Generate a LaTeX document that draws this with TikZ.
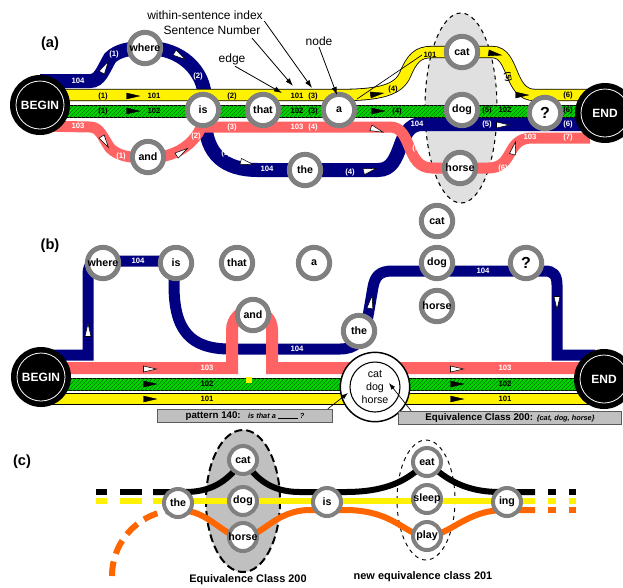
\documentclass[tikz,border=0pt]{standalone}
\usepackage{fontspec}
\setmainfont{Liberation Sans}
\usetikzlibrary{arrows.meta,patterns}

\definecolor{navyband}{RGB}{0,0,128}
\definecolor{pinkband}{RGB}{255,99,99}
\definecolor{ringgray}{RGB}{128,128,128}
\definecolor{hatchgreen}{RGB}{0,215,0}
\definecolor{hatchdark}{RGB}{0,110,0}
\definecolor{orangeband}{RGB}{255,102,0}
\definecolor{boxgray}{RGB}{192,192,192}
\definecolor{boxedge}{RGB}{90,90,90}
\definecolor{ellgray}{RGB}{224,224,224}

\tikzset{
  panel/.style={font=\fontsize{11}{13}\selectfont\bfseries, inner sep=0pt},
  word/.style={circle, draw=ringgray, fill=white, line width=3.75pt, minimum size=23.5pt, inner sep=-3pt, font=\fontsize{8}{9}\selectfont\bfseries},
  wordc/.style={word, line width=3pt, minimum size=21pt},
  qmark/.style={word, font=\fontsize{12}{13}\selectfont\bfseries},
  term/.style={circle, fill=black, minimum size=45pt, inner sep=0pt, text=white, font=\fontsize{9}{10}\selectfont\bfseries,
    path picture={\draw[white, line width=0.6pt] (path picture bounding box.center) circle[radius=18pt];}},
  bigring/.style={circle, draw=black, line width=1.1pt, fill=white, minimum size=52pt, inner sep=0pt, align=center,
    font=\fontsize{8}{9.75}\selectfont,
    path picture={\draw[black, line width=0.8pt] (path picture bounding box.center) circle[radius=18.75pt];}},
  labb/.style={font=\fontsize{5.8}{6}\selectfont\bfseries, inner sep=0pt},
  labw/.style={labb, text=white},
  note/.style={font=\fontsize{9}{10}\selectfont, inner sep=1pt},
  caption/.style={font=\fontsize{8.2}{9}\selectfont\bfseries, inner sep=0pt},
  pointer/.style={-{Latex[length=6pt, width=4pt]}, line width=0.6pt},
  graybox/.style={draw=boxedge, fill=boxgray, line width=0.8pt, inner sep=1pt, minimum height=10pt},
  b104a/.style={draw=navyband, line width=10.5pt},
  b104b/.style={draw=navyband, line width=8.25pt},
  b103a/.style={draw=pinkband, line width=8.25pt},
  b103b/.style={draw=pinkband, line width=9pt},
  b101/.style={draw=black, line width=0.6pt, double=yellow, double distance=8pt},
  b102/.style={draw=black, line width=0.6pt, fill=hatchgreen, postaction={pattern=north east lines, pattern color=hatchdark}},
  tipb/.style={fill=black, draw=black, line width=0.3pt},
  tipw/.style={fill=white, draw=black, line width=0.4pt},
  cline/.style={draw=black, line width=4.5pt},
  cyel/.style={draw=black, line width=0.5pt, double=yellow, double distance=4pt},
  corange/.style={draw=orangeband, line width=4.5pt},
}

\newcommand{\bandtip}[3]{\draw[#1, shift={#2}, rotate=#3] (-6.5,-3) -- (6.5,0) -- (-6.5,3) -- cycle;}

\begin{document}
\begin{tikzpicture}[x=0.75pt,y=0.75pt,yscale=-1,xscale=1]
    \useasboundingbox (0,0) rectangle (623,587);

    %%%%%%%%%%%%%%%%%%%% (a)
    \node[panel] (pa) at (50,44) {(a)};

    %Shape: Ellipse (equivalence region)
    \draw[dashed, fill=ellgray, line width=0.8pt] (461,108) ellipse [x radius=36, y radius=95];

    %Bands: 104, 103, 102, 101
    \draw[b104a] (40,81) -- (90,81) .. controls (100,81) and (103,70) .. (110,58) .. controls (118,50) and (130,48) .. (148,48) .. controls (180,48) and (205,70) .. (205,100) -- (205,118) .. controls (205,155) and (225,170) .. (258,170) -- (378,170) .. controls (405,170) and (395,124) .. (422,124) -- (590,124);
    \draw[b103a] (40,126) -- (90,127) .. controls (100,127) and (103,138) .. (110,148) .. controls (118,156) and (130,158) .. (148,158) .. controls (180,158) and (205,138) .. (205,108);
    \draw[b103a] (205,127) -- (390,127) .. controls (413,127) and (405,168) .. (432,168) -- (488,168) .. controls (515,168) and (505,138) .. (532,138) -- (590,138);
    \draw[b102] (40,105) rectangle (590,117);
    \draw[b101] (40,95) -- (340,95) .. controls (380,95) and (398,90) .. (405,75) .. controls (412,58) and (418,52) .. (432,52) -- (492,52) .. controls (515,52) and (508,95) .. (535,95) -- (590,95);

    %Direction marks
    \bandtip{tipb}{(133,96)}{0}
    \bandtip{tipb}{(133,111)}{0}
    \bandtip{tipb}{(377,94)}{-8}
    \bandtip{tipb}{(378,111)}{0}
    \bandtip{tipb}{(495,54)}{10}
    \bandtip{tipb}{(522,95)}{0}
    \bandtip{tipw}{(105,67)}{-60}
    \bandtip{tipw}{(180,56)}{32}
    \bandtip{tipw}{(247,163)}{15}
    \bandtip{tipw}{(370,170)}{-15}
    \bandtip{tipw}{(503,125)}{0}
    \bandtip{tipw}{(105,142)}{58}
    \bandtip{tipw}{(182,152)}{-33}
    \bandtip{tipw}{(377,130)}{20}
    \bandtip{tipw}{(514,148)}{-75}

    %Nodes
    \node[term] (begina) at (40,105) {BEGIN};
    \node[term] (enda) at (605,113) {END};
    \node[word] (wherea) at (145,48) {where};
    \node[word] (anda) at (148,157) {and};
    \node[word] (isa) at (203,110) {is};
    \node[word] (thata) at (263,110) {that};
    \node[word] (aa) at (339,110) {a};
    \node[word] (thea) at (305,170) {the};
    \node[word] (cata) at (462,52) {cat};
    \node[word] (doga) at (462,110) {dog};
    \node[word] (horsea) at (460,168) {horse};
    \node[qmark] (qa) at (545,113) {?};

    %Band labels
    \foreach \px/\py/\txt [count=\i] in {103/96/(1), 154/96/101, 232/96/(2), 297/96/101, 313/96/(3), 393/89/(4), 430/55/101, 568/95/(6),
        103/111/(1), 154/111/102, 297/111/102, 313/111/(3), 397/111/(4), 487/110/(5), 505/110/102, 568/110/(6)}
        \node[labb] (la\i) at (\px,\py) {\txt};
    \foreach \px/\py/\txt [count=\i] in {78/81/104, 114/54/(1), 198/76/(2), 226/153/(3), 267/169/104, 350/172/(4), 417/124/104, 487/124/(5), 568/124/(6),
        78/126/103, 121/156/(1), 196/136/(2), 232/127/(3), 297/127/103, 313/127/(4), 417/148/(5), 503/168/(6), 530/137/103, 568/137/(7)}
        \node[labw] (lw\i) at (\px,\py) {\txt};
    \node[labb, rotate=-80] (la5y) at (508,77) {(5)};

    %Annotations
    \node[note] (nidx) at (205,15) {within-sentence index};
    \node[note] (nsen) at (212,30) {Sentence Number};
    \node[note] (nedge) at (232,59) {edge};
    \node[note] (nnode) at (319,41) {node};
    \coordinate (tidx) at (312,88);
    \coordinate (tsen) at (293,86);
    \coordinate (tedge) at (282,93);
    \coordinate (tnode) at (337,95);
    \coordinate (tyl) at (357,99);
    \coordinate (tyr) at (422,55);
    \draw[pointer] (nidx.south east) -- (tidx);
    \draw[pointer] ([shift={(-10,2)}]nsen.south east) -- (tsen);
    \draw[pointer] ([shift={(3,0)}]nedge.south) -- (tedge);
    \draw[pointer] (nnode.south) -- (tnode);
    \draw[line width=0.5pt] (tyl) -- (tyr);

    %%%%%%%%%%%%%%%%%%%% (b)
    \node[panel] (pb) at (50,246) {(b)};

    %Bands
    \draw[b104b] (40,355) -- (88,355) -- (88,275) .. controls (88,265) and (92,261) .. (102,261) -- (174,261) -- (174,285) .. controls (174,330) and (190,349) .. (230,349) -- (340,349) .. controls (356,349) and (364,340) .. (367,322) -- (373,287) .. controls (375,276) and (380,271) .. (392,271) -- (545,271) .. controls (553,271) and (557,275) .. (557,285) -- (557,355) -- (595,355);
    \draw[b103b] (40,368) -- (232,368) -- (232,330) arc[start angle=180, end angle=360, radius=20] -- (272,368) -- (595,368);
    \draw[b102] (40,378) rectangle (595,390);
    \draw[b101] (40,399) -- (595,399);
    \fill[yellow] (246,377) rectangle (252,383);

    %Direction marks
    \bandtip{tipw}{(150,369)}{0}
    \bandtip{tipw}{(457,369)}{0}
    \bandtip{tipb}{(150,384)}{0}
    \bandtip{tipb}{(457,384)}{0}
    \bandtip{tipb}{(150,399)}{0}
    \bandtip{tipb}{(457,399)}{0}
    \bandtip{tipw}{(88,330)}{-90}
    \bandtip{tipw}{(371,302)}{-80}
    \bandtip{tipw}{(557,303)}{90}

    %Nodes
    \node[term] (beginb) at (41,377) {BEGIN};
    \node[term] (endb) at (604,379) {END};
    \node[word] (whereb) at (103,263) {where};
    \node[word] (isb) at (176,263) {is};
    \node[word] (thatb) at (237,263) {that};
    \node[word] (ab) at (314,263) {a};
    \node[word] (andb) at (253,315) {and};
    \node[word] (theb) at (359,331) {the};
    \node[word] (catb) at (437,221) {cat};
    \node[word] (dogb) at (437,263) {dog};
    \node[word] (horseb) at (437,306) {horse};
    \node[qmark] (qb) at (526,263) {?};

    %Band labels
    \foreach \px/\py/\txt [count=\i] in {207/384/102, 505/384/102, 207/399/101, 505/399/101}
        \node[labb] (lb\i) at (\px,\py) {\txt};
    \foreach \px/\py/\txt [count=\i] in {207/368/103, 505/368/103, 138/261/104, 297/349/104, 483/271/104}
        \node[labw] (lbw\i) at (\px,\py) {\txt};

    %Equivalence ring and boxes
    \node[bigring] (eqring) at (375,387) {cat\\dog\\horse};
    \node[graybox, minimum width=131pt] (patbox) at (245,416) {{\fontsize{7.3}{8}\selectfont\bfseries pattern 140:}\ \ {\fontsize{5.5}{6}\selectfont\bfseries\itshape is that a \rule{15pt}{0.5pt} ?}};
    \node[graybox, minimum width=167pt] (eqbox) at (510,418) {{\fontsize{7.3}{8}\selectfont\bfseries Equivalence Class 200:}\ {\fontsize{5.5}{6}\selectfont\bfseries\itshape \{cat, dog, horse\}}};
    \coordinate (patpt) at (348,393);
    \coordinate (eqpt) at (389,383);
    \draw[-{Latex[length=5pt, width=3.5pt]}, line width=0.5pt] ([shift={(-5,0)}]patbox.north east) -- (patpt);
    \draw[-{Latex[length=5pt, width=3.5pt]}, line width=0.5pt] ([shift={(13,0)}]eqbox.north west) -- (eqpt);

    %%%%%%%%%%%%%%%%%%%% (c)
    \node[panel] (pc) at (22,462) {(c)};

    %Shapes: Ellipses
    \draw[fill=boxgray, line width=1.5pt, dash pattern=on 6pt off 3pt] (243,501) ellipse [x radius=37, y radius=71];
    \draw[line width=0.7pt, dashed] (426,500) ellipse [x radius=29, y radius=60];

    %Lines
    \draw[cline] (153,492) -- (185,492) .. controls (215,492) and (230,478) .. (243,460) .. controls (256,478) and (270,492) .. (300,492) -- (345,492) .. controls (395,492) and (412,475) .. (427,462) .. controls (442,475) and (460,492) .. (500,492) -- (535,492);
    \draw[cyel] (153,501) -- (535,501);
    \draw[corange, dash pattern=on 11pt off 6pt] (112,576) arc[start angle=180, end angle=270, radius=66];
    \draw[corange] (178,510) .. controls (210,510) and (222,537) .. (243,537) .. controls (262,537) and (275,510) .. (310,510) -- (345,510) .. controls (395,510) and (405,536) .. (427,536) .. controls (450,536) and (465,510) .. (505,510) -- (535,510);
    \foreach \a/\b in {96/107, 120/142, 548/556, 569/576} {
        \draw[cline] (\a,492) -- (\b,492);
        \draw[cyel] (\a,501) -- (\b,501);
    }
    \foreach \a/\b in {548/556, 569/576}
        \draw[corange] (\a,510) -- (\b,510);

    %Nodes
    \node[wordc] (thec) at (178,503) {the};
    \node[wordc] (catc) at (243,460) {cat};
    \node[wordc] (dogc) at (243,501) {dog};
    \node[wordc] (horsec) at (243,537) {horse};
    \node[wordc] (isc) at (327,502) {is};
    \node[wordc] (eatc) at (427,462) {eat};
    \node[wordc] (sleepc) at (427,499) {sleep};
    \node[wordc] (playc) at (427,536) {play};
    \node[wordc] (ingc) at (507,502) {ing};

    %Captions
    \node[caption] (cap200) at (248,580) {Equivalence Class 200};
    \node[caption] (cap201) at (423,577) {new equivalence class 201};

\end{tikzpicture}
\end{document}
